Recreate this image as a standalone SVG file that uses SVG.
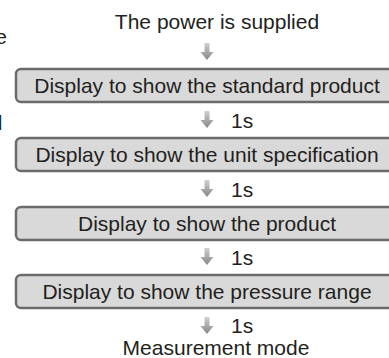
<svg xmlns="http://www.w3.org/2000/svg" width="389" height="358" viewBox="0 0 389 358">
<defs>
<linearGradient id="ag" x1="0" y1="0" x2="0" y2="1">
<stop offset="0" stop-color="#d0d0d0"/>
<stop offset="1" stop-color="#858585"/>
</linearGradient>
<path id="arr" d="M-2.5,0 H2.5 V9 H6.5 L0,17 L-6.5,9 H-2.5 Z" fill="url(#ag)"/>
</defs>
<style>
text{font-family:"Liberation Sans",Arial,sans-serif;font-size:21px;fill:#231f20}
.c{text-anchor:middle}
.box{fill:#d9d9d9;stroke:#6b6b6b;stroke-width:2.5}
</style>
<rect width="389" height="358" fill="#ffffff"/>
<g id="fragments">
<text x="7" y="44" text-anchor="end">e</text>
<text x="2.5" y="130" text-anchor="end">l</text>
</g>
<g id="connectors">
<use href="#arr" x="207" y="43"/>
<use href="#arr" x="207" y="111"/>
<use href="#arr" x="207" y="180"/>
<use href="#arr" x="207" y="248"/>
<use href="#arr" x="207" y="317"/>
<text x="231" y="128">1s</text>
<text x="231" y="197">1s</text>
<text x="231" y="265">1s</text>
<text x="231" y="333">1s</text>
</g>
<g id="start">
<text class="c" x="217" y="29">The power is supplied</text>
</g>
<g id="box1">
<rect class="box" x="16" y="69" width="382" height="33" rx="5"/>
<text class="c" x="207" y="93">Display to show the standard product</text>
</g>
<g id="box2">
<rect class="box" x="16" y="138" width="382" height="33" rx="5"/>
<text class="c" x="207" y="162">Display to show the unit specification</text>
</g>
<g id="box3">
<rect class="box" x="16" y="207" width="382" height="33" rx="5"/>
<text class="c" x="207" y="231">Display to show the product</text>
</g>
<g id="box4">
<rect class="box" x="16" y="275" width="382" height="33" rx="5"/>
<text class="c" x="207" y="299">Display to show the pressure range</text>
</g>
<g id="end">
<text class="c" x="216" y="355">Measurement mode</text>
</g>
</svg>
